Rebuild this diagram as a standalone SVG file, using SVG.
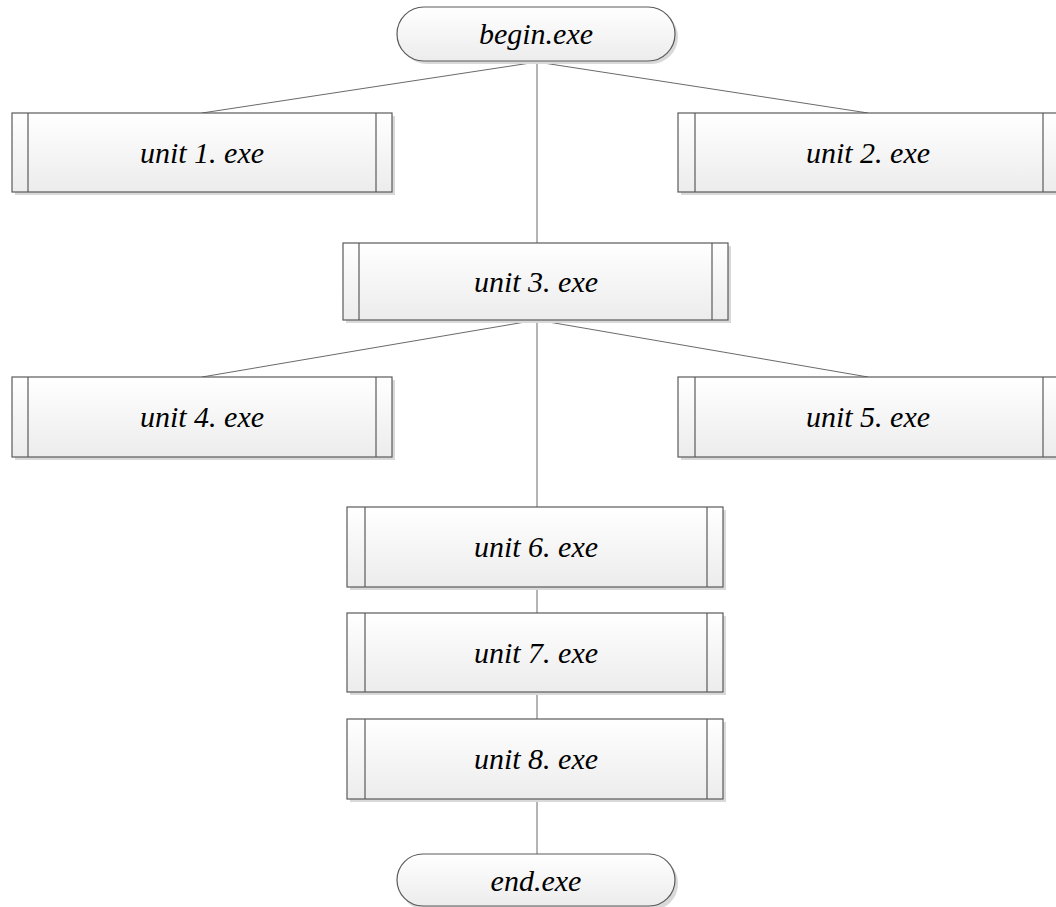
<svg xmlns="http://www.w3.org/2000/svg" width="1056" height="907" viewBox="0 0 1056 907">
<defs>
<linearGradient id="g" x1="0" y1="0" x2="0" y2="1">
<stop offset="0" stop-color="#ffffff"/>
<stop offset="1" stop-color="#ececec"/>
</linearGradient>
</defs>
<style>
.box{fill:url(#g);stroke:#5a5a5a;stroke-width:1.2}
.sh{fill:#d9d9d9;stroke:none}
.in{stroke:#5a5a5a;stroke-width:1.2}
.c{stroke:#6a6a6a;stroke-width:1;fill:none}
.t{font-size:30px;font-style:italic;fill:#000;text-anchor:middle}
</style>
<rect width="1056" height="907" fill="#fff"/>
<g id="connectors">
<line class="c" x1="537" y1="62" x2="202" y2="113"/>
<line class="c" x1="537" y1="62" x2="868" y2="113"/>
<line class="c" x1="537" y1="62" x2="537" y2="243"/>
<line class="c" x1="537" y1="320" x2="202" y2="377"/>
<line class="c" x1="537" y1="320" x2="868" y2="377"/>
<line class="c" x1="537" y1="320" x2="537" y2="507"/>
<line class="c" x1="537" y1="587" x2="537" y2="613"/>
<line class="c" x1="537" y1="692" x2="537" y2="719"/>
<line class="c" x1="537" y1="799" x2="537" y2="854"/>
</g>
<g id="begin">
<rect class="sh" x="400" y="10" width="278" height="54" rx="27"/>
<rect class="box" x="397" y="7" width="278" height="54" rx="27"/>
<text class="t" font-family="Liberation Serif, serif" x="536" y="44">begin.exe</text>
</g>
<g id="unit1">
<rect class="sh" x="15" y="116" width="380" height="79"/>
<rect class="box" x="12" y="113" width="380" height="79"/>
<line class="in" x1="28" y1="113" x2="28" y2="192"/><line class="in" x1="376" y1="113" x2="376" y2="192"/>
<text class="t" font-family="Liberation Serif, serif" x="202" y="163">unit 1. exe</text>
</g>
<g id="unit2">
<rect class="sh" x="681" y="116" width="380" height="79"/>
<rect class="box" x="678" y="113" width="380" height="79"/>
<line class="in" x1="695" y1="113" x2="695" y2="192"/><line class="in" x1="1043" y1="113" x2="1043" y2="192"/>
<text class="t" font-family="Liberation Serif, serif" x="868" y="163">unit 2. exe</text>
</g>
<g id="unit3">
<rect class="sh" x="346" y="246" width="385" height="77"/>
<rect class="box" x="343" y="243" width="385" height="77"/>
<line class="in" x1="359" y1="243" x2="359" y2="320"/><line class="in" x1="712" y1="243" x2="712" y2="320"/>
<text class="t" font-family="Liberation Serif, serif" x="536" y="292">unit 3. exe</text>
</g>
<g id="unit4">
<rect class="sh" x="15" y="380" width="380" height="80"/>
<rect class="box" x="12" y="377" width="380" height="80"/>
<line class="in" x1="28" y1="377" x2="28" y2="457"/><line class="in" x1="376" y1="377" x2="376" y2="457"/>
<text class="t" font-family="Liberation Serif, serif" x="202" y="427">unit 4. exe</text>
</g>
<g id="unit5">
<rect class="sh" x="681" y="380" width="380" height="80"/>
<rect class="box" x="678" y="377" width="380" height="80"/>
<line class="in" x1="695" y1="377" x2="695" y2="457"/><line class="in" x1="1043" y1="377" x2="1043" y2="457"/>
<text class="t" font-family="Liberation Serif, serif" x="868" y="427">unit 5. exe</text>
</g>
<g id="unit6">
<rect class="sh" x="350" y="510" width="376" height="80"/>
<rect class="box" x="347" y="507" width="376" height="80"/>
<line class="in" x1="365" y1="507" x2="365" y2="587"/><line class="in" x1="707" y1="507" x2="707" y2="587"/>
<text class="t" font-family="Liberation Serif, serif" x="536" y="557">unit 6. exe</text>
</g>
<g id="unit7">
<rect class="sh" x="350" y="616" width="376" height="79"/>
<rect class="box" x="347" y="613" width="376" height="79"/>
<line class="in" x1="365" y1="613" x2="365" y2="692"/><line class="in" x1="707" y1="613" x2="707" y2="692"/>
<text class="t" font-family="Liberation Serif, serif" x="536" y="663">unit 7. exe</text>
</g>
<g id="unit8">
<rect class="sh" x="350" y="722" width="376" height="80"/>
<rect class="box" x="347" y="719" width="376" height="80"/>
<line class="in" x1="365" y1="719" x2="365" y2="799"/><line class="in" x1="707" y1="719" x2="707" y2="799"/>
<text class="t" font-family="Liberation Serif, serif" x="536" y="769">unit 8. exe</text>
</g>
<g id="end">
<rect class="sh" x="400" y="857" width="278" height="53" rx="26"/>
<rect class="box" x="397" y="854" width="278" height="52" rx="26"/>
<text class="t" font-family="Liberation Serif, serif" x="536" y="891">end.exe</text>
</g>
</svg>
